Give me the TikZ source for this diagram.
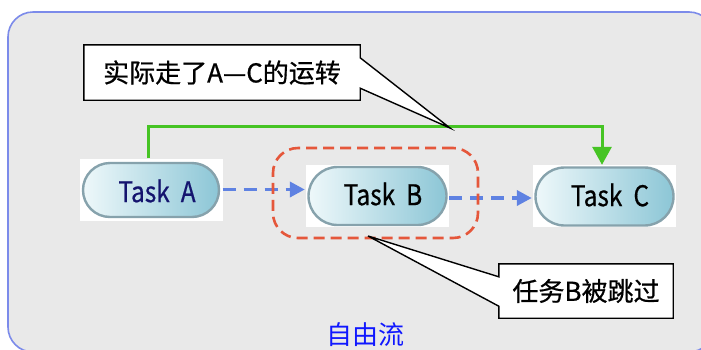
\documentclass[tikz,border=0pt]{standalone}
\usepackage{fontspec}
\setmainfont{Noto Sans CJK SC}
\newfontfamily\heavycjk[FakeBold=0.7]{Noto Sans CJK SC}
\newfontfamily\narrowsans[FakeBold=0.5,FakeStretch=0.86]{Noto Sans CJK SC}
\usetikzlibrary{arrows.meta,calc}

\definecolor{panelfill}{HTML}{E9E9E9}
\definecolor{panelline}{HTML}{7C8BEA}
\definecolor{flowblue}{HTML}{5F82E2}
\definecolor{jumpgreen}{HTML}{46C424}
\definecolor{skipred}{HTML}{E5573B}
\definecolor{pillleft}{HTML}{EEF8FA}
\definecolor{pillright}{HTML}{8CC6D6}
\definecolor{pillline}{HTML}{86A2AC}
\definecolor{navytext}{HTML}{14146E}
\definecolor{titleblue}{HTML}{1018FF}

\tikzset{
  taskback/.style={fill=white, draw=none, minimum width=143pt, minimum height=62pt, inner sep=0pt},
  taskpill/.style={rounded corners=27pt, left color=pillleft, right color=pillright,
    draw=pillline, line width=2.4pt, minimum width=136pt, minimum height=54pt, inner sep=0pt},
  tasktext/.style={font=\narrowsans\fontsize{28.5}{28.5}\selectfont, inner sep=0pt},
  flowarrow/.style={draw=flowblue, line width=3.6pt, dash pattern=on 13pt off 8pt,
    -{Triangle[length=15pt,width=15pt,sep=1pt]}},
  jumparrow/.style={draw=jumpgreen, line width=3pt, -{Triangle[length=18pt,width=19pt]}},
  skipframe/.style={draw=skipred, line width=2.6pt, dash pattern=on 11pt off 6pt,
    rounded corners=25pt, minimum width=205pt, minimum height=90pt, inner sep=0pt},
  calloutbox/.style={inner sep=0pt, font=\heavycjk\fontsize{26}{26}\selectfont},
  calloutline/.style={fill=white, draw=black, line width=1.4pt, line join=miter},
}

\begin{document}
\begin{tikzpicture}[x=1pt,y=-1pt]
  \useasboundingbox (0,0) rectangle (701,349);
  \clip (0,0) rectangle (701,349);
  \fill[white] (0,0) rectangle (701,349);

  % grey panel
  \draw[fill=panelfill, draw=panelline, line width=1.6pt, rounded corners=25pt]
    (8,12) rectangle (714,352);

  % tasks
  \node[taskback] (bgA) at (151,189.5) {};
  \node[taskpill] (A) at (151,190) {};
  \node[tasktext, text=navytext] (tA) at (157,191) {Task\ \ A};

  \node[taskback] (bgB) at (377.5,195.5) {};
  \node[taskpill, minimum width=138pt, minimum height=58pt, rounded corners=29pt] (B) at (377.5,196) {};
  \node[tasktext] (tB) at (383,194) {Task\ \ B};

  \node[taskback] (bgC) at (604.5,196) {};
  \node[taskpill, minimum width=138pt, minimum height=58pt, rounded corners=29pt] (C) at (604.5,196.5) {};
  \node[tasktext] (tC) at (610,195) {Task\ \ C};

  % normal flow
  \draw[flowarrow] (bgA.east) -- (bgA.east -| bgB.west);
  \draw[flowarrow] ([yshift=-2.5pt]bgB.east) -- ([yshift=-2.5pt]bgB.east -| bgC.west);

  % actual jump A -> C
  \coordinate (jl) at (148,126);
  \coordinate (jr) at (602,126);
  \draw[jumparrow] ([xshift=-3pt]bgA.north) -- (jl) -- (jr) -- ([xshift=-2.5pt]bgC.north);

  % skipped task frame
  \node[skipframe] (skip) at (375.5,193) {};

  % callout: actual path
  \node[calloutbox, minimum width=276pt, minimum height=55pt] (c1) at (222,72.5) {};
  \coordinate (c1tip) at (450,128);
  \draw[calloutline] (c1.north west) -- (c1.north east) -- ($(c1.north east)+(0,13)$)
    -- (c1tip) -- ($(c1.south east)+(0,-12)$) -- (c1.south east) -- (c1.south west) -- cycle;
  \node[calloutbox] (c1t) at (c1.center) {实际走了A—C的运转};

  % callout: skipped task
  \node[calloutbox, minimum width=174pt, minimum height=54pt] (c2) at (586,291) {};
  \coordinate (c2tip) at (368,236);
  \draw[calloutline] (c2.north west) -- (c2.north east) -- (c2.south east) -- (c2.south west)
    -- ($(c2.south west)+(0,-12)$) -- (c2tip) -- ($(c2.north west)+(0,13)$) -- cycle;
  \node[calloutbox] (c2t) at (c2.center) {任务B被跳过};

  % caption
  \node[font=\fontsize{26}{26}\selectfont, text=titleblue, inner sep=0pt] (title) at (365,335) {自由流};
\end{tikzpicture}
\end{document}
